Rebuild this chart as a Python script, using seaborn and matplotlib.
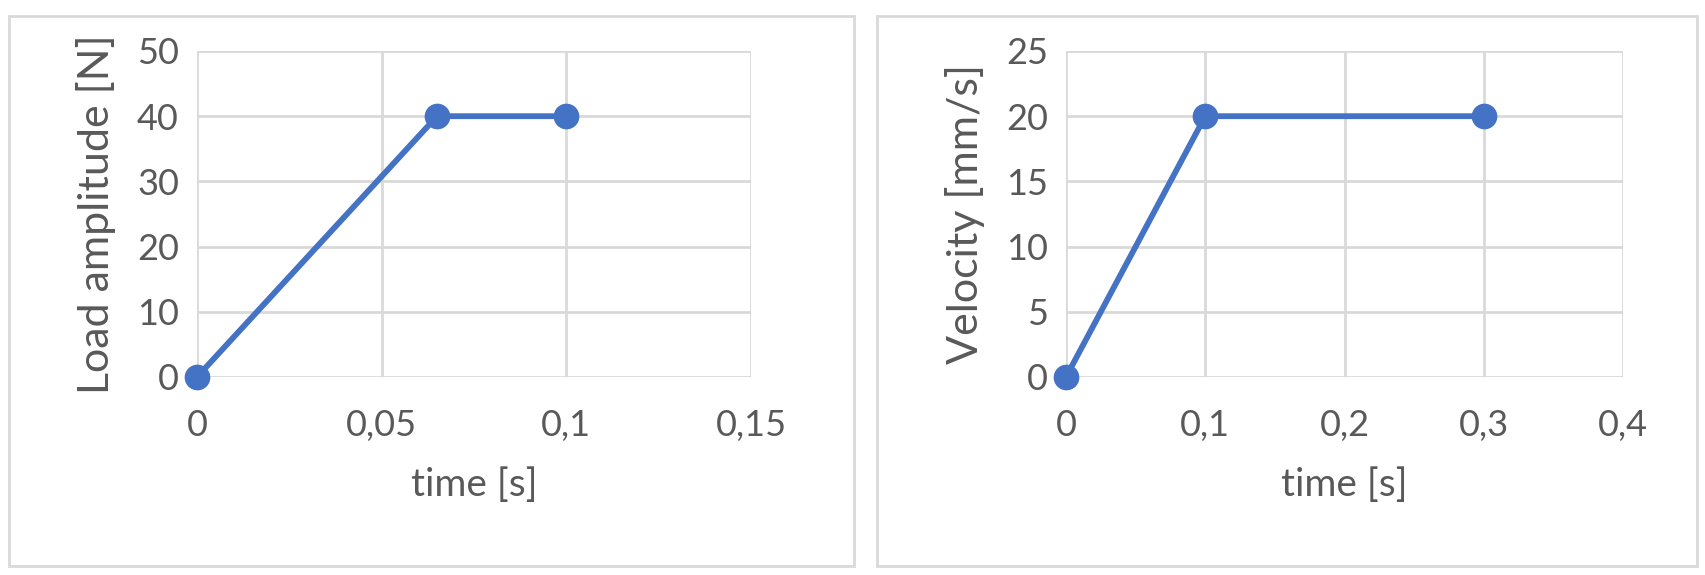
import matplotlib
matplotlib.use("Agg")
import matplotlib.pyplot as plt
import seaborn as sns
from matplotlib.patches import Rectangle

# left chart: load ramp
load_time = [0, 0.065, 0.1]
load_value = [0, 40, 40]
load_xticks = [0, 0.05, 0.1, 0.15]
load_xlabels = ["0", "0,05", "0,1", "0,15"]
load_yticks = [0, 10, 20, 30, 40, 50]

# right chart: velocity ramp
vel_time = [0, 0.1, 0.3]
vel_value = [0, 20, 20]
vel_xticks = [0, 0.1, 0.2, 0.3, 0.4]
vel_xlabels = ["0", "0,1", "0,2", "0,3", "0,4"]
vel_yticks = [0, 5, 10, 15, 20, 25]

blue = "#4472C4"
grid = "#D9D9D9"
text = "#595959"

sns.set_theme(style="white")
plt.rcParams['font.family'] = ['Lato', 'DejaVu Sans']

fig = plt.figure(figsize=(17.05, 5.75), dpi=100)

# chart frames
fig.patches.append(Rectangle((9 / 1705, 9 / 575), 845 / 1705, 550 / 575, transform=fig.transFigure,
                             fill=False, edgecolor=grid, linewidth=2))
fig.patches.append(Rectangle((877 / 1705, 9 / 575), 820 / 1705, 550 / 575, transform=fig.transFigure,
                             fill=False, edgecolor=grid, linewidth=2))

ax1 = fig.add_axes([197 / 1705, 1 - 377 / 575, 554 / 1705, 326 / 575])
ax2 = fig.add_axes([1066 / 1705, 1 - 377 / 575, 557 / 1705, 326 / 575])


def style(ax, x, y, xticks, xlabels, yticks, ylabel):
    sns.lineplot(x=x, y=y, ax=ax, color=blue, linewidth=4.2, marker="o",
                 markersize=18.5, markeredgewidth=0, clip_on=False, zorder=5)
    ax.set_xlim(xticks[0], xticks[-1])
    ax.set_ylim(yticks[0], yticks[-1])
    ax.set_xticks(xticks)
    ax.set_xticklabels(xlabels)
    ax.set_yticks(yticks)
    ax.set_yticklabels([str(v) for v in yticks])
    ax.grid(True, color=grid, linewidth=2)
    for s in ax.spines.values():
        s.set_visible(False)
    ax.tick_params(axis="x", length=0, pad=23, labelsize=26, labelcolor=text)
    ax.tick_params(axis="y", length=0, pad=13, labelsize=26, labelcolor=text)
    ax.set_xlabel("time [s]", fontsize=28, color=text, labelpad=18)
    ax.set_ylabel(ylabel, fontsize=31, color=text, labelpad=15)


style(ax1, load_time, load_value, load_xticks, load_xlabels, load_yticks, "Load amplitude [N]")
style(ax2, vel_time, vel_value, vel_xticks, vel_xlabels, vel_yticks, "Velocity [mm/s]")

fig.savefig("out.png", dpi=100)
